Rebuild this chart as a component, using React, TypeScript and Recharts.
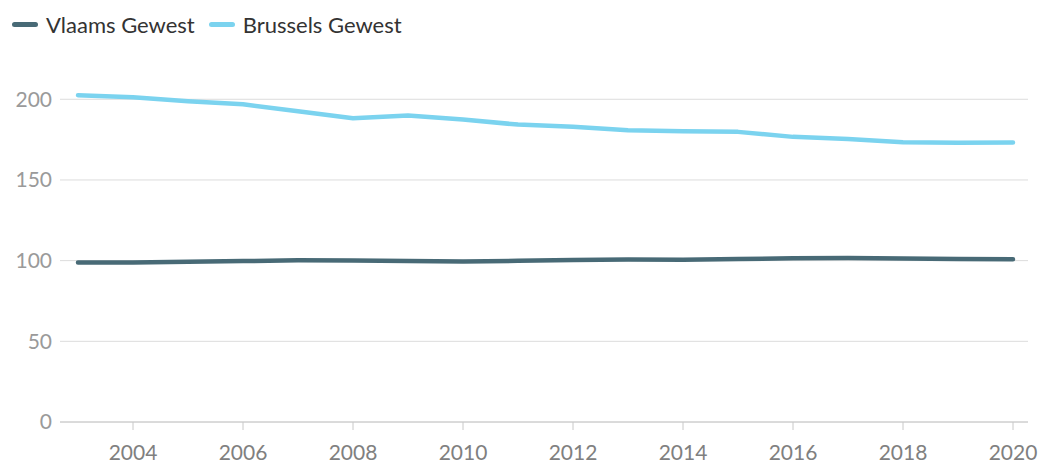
import { CartesianGrid, Line, LineChart, XAxis, YAxis } from "recharts";

const years = [
    2003, 2004, 2005, 2006, 2007, 2008, 2009, 2010, 2011, 2012, 2013, 2014,
    2015, 2016, 2017, 2018, 2019, 2020,
];

const vlaams = [
    98.8, 98.9, 99.3, 99.7, 100.2, 100.1, 99.7, 99.4, 99.9, 100.4, 100.7,
    100.6, 101.0, 101.5, 101.6, 101.3, 101.0, 100.9,
];

const brussels = [
    202.5, 201.2, 198.8, 196.9, 192.6, 188.2, 190.0, 187.4, 184.3, 182.9,
    180.8, 180.2, 179.8, 176.7, 175.4, 173.4, 173.0, 173.2,
];

const xTicks = [2004, 2006, 2008, 2010, 2012, 2014, 2016, 2018, 2020];
const yTicks = [0, 50, 100, 150, 200];

const series = [
    { key: "vlaams", name: "Vlaams Gewest", color: "#486a76" },
    { key: "brussels", name: "Brussels Gewest", color: "#7bd3ef" },
];

const data = years.map((year, i) => ({
    year,
    vlaams: vlaams[i],
    brussels: brussels[i],
}));

const font = "Lato, 'Noto Sans', sans-serif";

// legend sits above the plot, outside the chart's layout
const LegendBox = () => (
    <div
        style={{
            position: "absolute",
            top: 11,
            left: 12,
            display: "flex",
            alignItems: "center",
            fontFamily: font,
        }}
    >
        {series.map((s) => (
            <div
                key={s.key}
                style={{ display: "flex", alignItems: "center", marginRight: 14 }}
            >
                <span
                    style={{
                        width: 26,
                        height: 5,
                        borderRadius: 3,
                        background: s.color,
                        marginRight: 8,
                    }}
                />
                <span style={{ fontSize: 22, color: "#333" }}>{s.name}</span>
            </div>
        ))}
    </div>
);

// only draw grid lines at the labelled ticks, not at the domain top
const gridLines = ({ yAxis, offset }: any) => {
    if (yAxis && typeof yAxis.scale === "function") {
        return yTicks.map((t) => yAxis.scale(t));
    }
    const top = offset.top;
    const h = offset.height;
    return yTicks.map((t) => top + h - (t / 220) * h);
};

const App = () => {
    return (
        <div style={{ position: "absolute", left: 0, top: 0, width: 1040, height: 464 }}>
            <LineChart
                width={1040}
                height={464}
                data={data}
                margin={{ top: 67, right: 12, left: 0, bottom: 0 }}
            >
                <CartesianGrid
                    vertical={false}
                    stroke="#dcdcdc"
                    horizontalCoordinatesGenerator={gridLines}
                />
                <XAxis
                    dataKey="year"
                    type="number"
                    domain={[2003, 2020]}
                    ticks={xTicks}
                    padding={{ left: 18, right: 15 }}
                    height={42}
                    stroke="#c8c8c8"
                    tickSize={8}
                    tickMargin={15}
                    tick={{ fill: "#808080", fontSize: 21, fontFamily: font }}
                />
                <YAxis
                    domain={[0, 220]}
                    ticks={yTicks}
                    width={60}
                    axisLine={false}
                    tickLine={false}
                    tick={{ fill: "#9a9a9a", fontSize: 21, fontFamily: font }}
                />
                {series.map((s) => (
                    <Line
                        key={s.key}
                        dataKey={s.key}
                        name={s.name}
                        type="linear"
                        stroke={s.color}
                        strokeWidth={4.5}
                        strokeLinecap="round"
                        strokeLinejoin="round"
                        dot={false}
                        isAnimationActive={false}
                    />
                ))}
            </LineChart>
            <LegendBox />
        </div>
    );
};

export default App;
